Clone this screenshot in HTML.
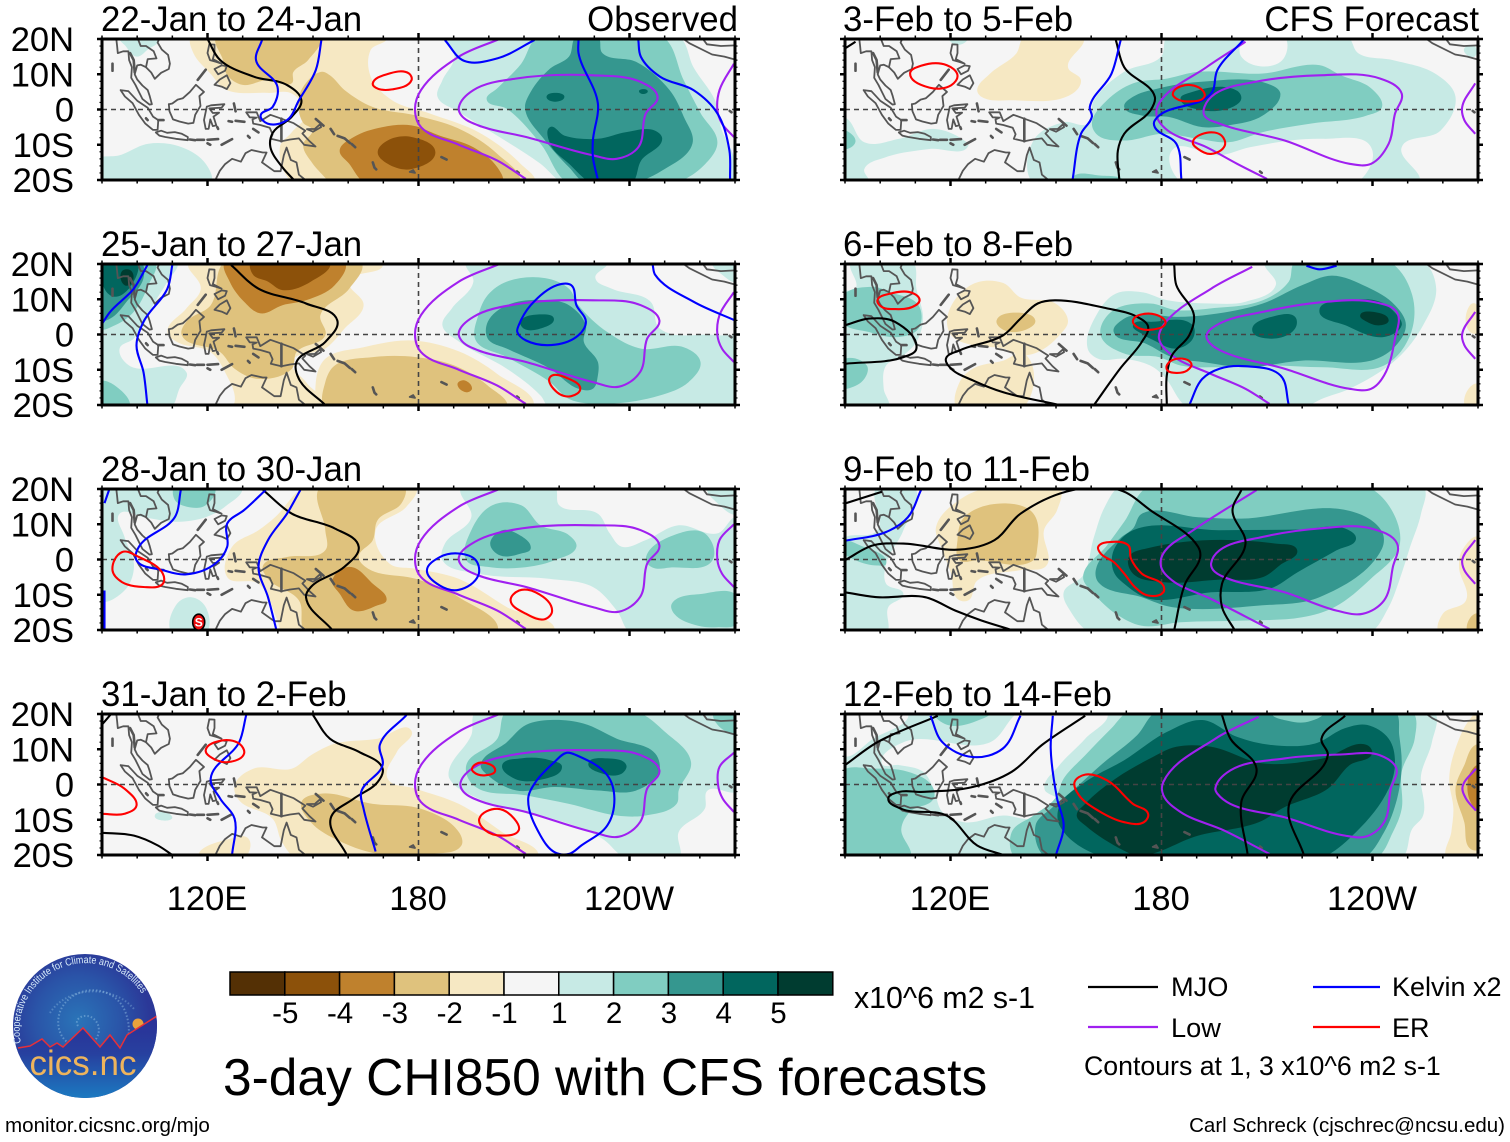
<!DOCTYPE html>
<html lang="en">
<head>
<meta charset="utf-8">
<title>3-day CHI850 with CFS forecasts</title>
<style>
html,body{margin:0;padding:0;background:#fff}
svg{display:block}
text{font-family:"Liberation Sans",sans-serif;fill:#000}
</style>
</head>
<body>
<svg id="chart" xmlns="http://www.w3.org/2000/svg" width="1510" height="1142" viewBox="0 0 1510 1142">
<rect x="0" y="0" width="1510" height="1142" fill="#fff"/>
<g id="panels"></g>
<g id="colorbar"></g>
<text x="854" y="1008" font-size="30.3">x10^6 m2 s-1</text>
<text x="223" y="1095" font-size="51.5">3-day CHI850 with CFS forecasts</text>
<g>
<line x1="1088" y1="987" x2="1158" y2="987" stroke="#000" stroke-width="2.2"/>
<text x="1171" y="996" font-size="27.2">MJO</text>
<line x1="1313" y1="987" x2="1380" y2="987" stroke="#0000ff" stroke-width="2.2"/>
<text x="1392" y="996" font-size="27">Kelvin x2</text>
<line x1="1088" y1="1027" x2="1158" y2="1027" stroke="#a020f0" stroke-width="2.2"/>
<text x="1171" y="1037" font-size="27.2">Low</text>
<line x1="1313" y1="1027" x2="1380" y2="1027" stroke="#ff0000" stroke-width="2.2"/>
<text x="1392" y="1037" font-size="27">ER</text>
<text x="1084" y="1075" font-size="26.7">Contours at 1, 3 x10^6 m2 s-1</text>
</g>
<text x="1505" y="1132" font-size="20.5" text-anchor="end">Carl Schreck (cjschrec@ncsu.edu)</text>
<text x="5" y="1132" font-size="20.6">monitor.cicsnc.org/mjo</text>
<g>
<defs>
<radialGradient id="skyGrad" gradientUnits="userSpaceOnUse" cx="78" cy="1020" r="72">
<stop offset="0" stop-color="#2a74b8"/><stop offset="0.6" stop-color="#2a54a8"/><stop offset="1" stop-color="#2b3898"/>
</radialGradient>
<linearGradient id="landGrad" x1="0" y1="0" x2="0" y2="1">
<stop offset="0" stop-color="#2b2f96"/><stop offset="0.45" stop-color="#27409f"/><stop offset="1" stop-color="#1b7cc2"/>
</linearGradient>
<clipPath id="logoClip"><circle cx="85" cy="1026" r="72"/></clipPath>
</defs>
<circle cx="85" cy="1026" r="72" fill="url(#skyGrad)"/>
<g clip-path="url(#logoClip)">
<path d="M78 1026c-5-8 8-14 16-7 11 10 2 29-14 28-22-2-28-28-15-44 17-20 50-16 60 8 8 20 2 34-4 42" fill="none" stroke="#9cc8e8" stroke-width="2" stroke-dasharray="1.5 2" opacity="0.45"/>
<path d="M50 1013c16-26 62-30 84-4" fill="none" stroke="#9cc8e8" stroke-width="2" stroke-dasharray="1.5 2" opacity="0.35"/>
<circle cx="138" cy="1024" r="5.5" fill="#e8a23c"/>
<path d="M13 1048L18 1048L30 1046L42 1039L50 1047L57 1043L63 1047L83 1028L100 1047L110 1035L120 1048L127 1035L157 1016L160 1100L10 1100Z" fill="url(#landGrad)" stroke="none"/>
<path d="M18 1048L30 1046L42 1039L50 1047L57 1043L63 1047L83 1028L100 1047L110 1035L120 1048L127 1035L157 1016" fill="none" stroke="#e5303a" stroke-width="1.5"/>
</g>
<path id="logoArc" d="M21 1043A62 62 0 1 1 151 1016" fill="none"/>
<text font-size="10.4" style="fill:#d8ecfa"><textPath href="#logoArc" textLength="184" lengthAdjust="spacingAndGlyphs">Cooperative Institute for Climate and Satellites</textPath></text>
<text x="83" y="1075" font-size="35" text-anchor="middle" style="fill:#eeb45c">cics.nc</text>
</g>
</svg>
<script>
/* ---- colour scale ---- */
const colorbarTicks = [-5,-4,-3,-2,-1,1,2,3,4,5];
const palette = ["#543005","#8c510a","#bf812d","#dfc27d","#f6e8c3","#f5f5f5","#c7eae5","#80cdc1","#35978f","#01665e","#003c30"];

/* ---- axis labels ---- */
const latTicks = [20,10,0,-10,-20];
const latLabels = ["20N","10N","0","10S","20S"];
const lonTicks = [120,180,240];
const lonLabels = ["120E","180","120W"];

/* ---- panels ---- */
const titlesLeft = ["22-Jan to 24-Jan","25-Jan to 27-Jan","28-Jan to 30-Jan","31-Jan to 2-Feb"];
const titlesRight = ["3-Feb to 5-Feb","6-Feb to 8-Feb","9-Feb to 11-Feb","12-Feb to 14-Feb"];

/* Each shade entry: [binValue, lon,lat, lon,lat, ...]. Each line entry: [lon,lat, lon,lat, ...]. */
const shade1 = [
[-1.5,115.4,20.6,116,16,121,10,125,5.7,137,4.7,144,4.5,148,-1.2,144,-6.4,140.6,-10.7,144.6,-21,213,-21,209,-15.4,197,-6.4,183.4,-1.2,172.5,2.6,166.4,9.3,166.4,16.9,171,20.6],
[-2.5,122.6,21,124.4,14,125.6,9.8,129.8,7,137.2,8.4,144,7.5,144.4,10.6,148.6,14,152,21],
[-2.5,152.5,10.7,147.2,6.4,145.8,1.8,147.2,-3.8,149.8,-5.8,147.2,-10,149.8,-15.2,153.5,-19.4,154.9,-21,208.6,-21,202.4,-12.6,191.6,-5.5,179.3,-1.7,167,0.7,159,5.5,154.8,9.7],
[-3.5,157.6,-11.6,161.6,-7.8,169.8,-5,178,-4.5,186,-7.4,195.6,-10.7,202.4,-16.4,203.8,-21,165,-21,160.3,-15.4],
[-4.5,168.4,-12.1,171.2,-8.8,178,-7.8,184.8,-12.1,178,-16.9,171.2,-15.4],
[1.5,95,20.6,105.9,19.7,103,17,99.8,15,96.7,18],
[1.5,88,-14.5,95,-13,103.2,-9.7,112.7,-10.7,119.5,-15.4,120.9,-21,88,-21],
[1.5,187.5,20.7,190.2,15,186.8,8.3,185.4,3.6,191.5,-0.7,203.8,-8.3,214.7,-15.4,221.5,-21,271,-21,269,-11.6,266.3,-6,264.3,2.6,258.2,12,254,20.7],
[2.5,214,20.7,209.2,13,202.4,6,199.4,2.8,205.1,0.2,214.7,-9.7,222.8,-21,252.7,-21,261.6,-15.4,265,-9.3,260.2,-1,255.4,8.3,249.3,20.7],
[3.5,224.9,20.7,222.8,15,217.4,11.6,211.9,5,210.3,0.2,216,-8.8,222.8,-16.4,227.6,-21,240.5,-21,249.3,-17.3,257.9,-9.7,255.4,-2,251.4,5.5,241.9,13.5,232.3,16,231,20.7],
[4.5,217.4,-5,221.5,-7.4,231,-8.3,239.1,-6.4,247.3,-6,249.3,-8.3,243.3,-14.5,240.5,-21,229.6,-21,222.8,-15.4,217.4,-9.7],
[4.5,216.4,3.6,219.4,4.7,221.5,3.6,218.8,2.2],
[4.5,242.7,5.2,243.9,5.8,245.2,5.2,243.9,4.4]
];
const mjo1 = [[120,20,123.6,14,133.2,9.3,142.7,6.9,146.7,2.6,144,-2,138.5,-6.7,137.9,-10.7,141.3,-16.4,144.6,-20]];
const kelvin1 = [
[135.5,19.7,133.8,14,139.9,6.4,138.5,0.7,135.1,-1.7,137.1,-4,142.6,-3,146,2.6,150.8,11.2,152.4,19.7],
[187.5,19.7,193,13.8,202.4,14.5,213,19.7],
[225.5,19.7,225.5,16,231,1.7,229.6,-8.8,229.6,-13.5,231,-20],
[242.5,19.7,243.2,15,248.7,9.3,258.2,5.5,265,-1.1,268.4,-11.6,268.6,-20]
];
const low1Open = [
[203,20,191.5,15,180.7,5.5,179,0,180.7,-5,191.5,-10,202.4,-14.5,210.5,-19.7],
[269.7,13,265.6,5.5,265,-0.2,266.3,-4,269.7,-7.8]
];
const low1Closed = [[191.5,0.7,195.6,5.5,207.9,8.8,229.6,9.7,243.2,7.8,248,3.6,244.6,-1.2,242.5,-10.7,236.4,-14,229.6,-13,210.6,-7.8,197,-4.5,192.2,-1.7]];
const er1 = [[167,7.4,171,10,177.3,10.2,178,8.3,172.5,5.7,167.8,6.2]];

const shade2 = [
[-1.5,114.7,20.7,118.1,13,114,7.4,108.6,0.7,111.3,-2.1,120.9,-5,125,-10.7,127.7,-19.2,126.3,-21,153.5,-21,148,-13.5,144,-7.8,153.5,-4,159,1.7,164.4,8.3,160.3,15,169.8,20.2],
[-1.5,152.4,-21,150.8,-13.5,153.5,-6.9,164.4,-3.6,178,-1.7,191.5,-4.8,202.4,-11.2,212.6,-21],
[-2.5,125,20.7,120.9,8.3,114,3.6,112.7,-0.2,123.6,-5,127.7,-9.7,134.5,-12.6,144,-9.7,145.3,-5,153.5,-0.2,152.1,5.5,160.3,13,163.7,20.7],
[-2.5,153.5,-21,153.5,-13.5,156.2,-8.8,167,-6.4,179.3,-6.4,190.2,-8.8,199.7,-14.5,205.1,-21],
[-3.5,125,20.7,159,20.7,156.2,14,148,9.7,141.3,8.3,135.1,6,130.4,9.3,126.3,15],
[-4.5,132.4,20.7,154.8,20.7,149.4,15,141.3,12.6,137.2,15,133,16.9],
[-3.5,191.1,-14,192.9,-13,195.2,-15.4,193.6,-16.4],
[1.5,89,20.7,111.3,20.7,108.6,15,104.5,8.3,101.8,2.6,99,-1.2,95,-4,97.7,-8.8,114,-10.7,112,-15.4,109.3,-21,89,-21],
[1.5,193.6,20.7,195.6,15,189.5,7.4,186.8,2.6,191.5,-2,205.1,-9.7,214.7,-17.3,217.4,-21,271,-21,271,-1.2,265,-0.2,248.6,1.7,246,9.3,235,13,230.3,16,233.7,20.7],
[1.5,263.6,20.7,271,20.7,271,15,266.3,17],
[2.5,89,20.7,105,20.7,103.2,14,99,6.4,93.7,2.6,89,1.7],
[2.5,89,-13.5,93.7,-14.5,97.7,-21,89,-21],
[2.5,199.7,11.2,205.1,15,216,16,222.8,13,225.5,8.3,233.7,0.7,243.2,-4,255.4,-3.6,260.2,-7.8,256.8,-13.5,248.6,-17.3,232.3,-19.7,222.8,-18.3,217.4,-13.5,205.1,-6.4,196.3,-1.7,197,5.5],
[3.5,89,20.7,101,20.7,101.8,16,97,9.3,92.3,4.5,89,4],
[3.5,199.7,3.6,205.1,8.3,217.4,9.7,222.8,8.3,227.6,2.6,227,-2,231,-7.8,231,-11.6,229.6,-15.4,225.5,-15.4,217.4,-9.7,205.1,-4,199.7,-1.2],
[4.5,90.7,20.7,99.8,20.7,99,15,93.7,10.7,90.7,13],
[4.5,209,3.6,214.7,5.7,218.5,4.5,214.7,1.7,209.9,1.7],
[5.5,95.7,18,98.4,18,98.4,14.5,96.4,14]
];
const mjo2 = [[126.7,19.7,134.5,13,148,8.8,156.9,4,153.5,-2.1,145.3,-7.8,146,-12.6,153.5,-20]];
const kelvin2 = [
[102.9,19.7,99,13,92.3,6.4,90,3],
[110,19.7,108.6,13,101.8,3.6,99.8,-3,101.8,-10.7,102.9,-20],
[246.6,19.7,247.3,16.9,258.2,9.3,270,4]
];
const kelvin2Closed = [[208.5,2.6,211.9,8.3,219.4,14,223.4,14,224.9,8.3,227.6,3.6,225.5,-0.2,218.8,-2.9,210.6,-1.7,208.1,0.7]];
const low2Open = [
[203,20,191.5,15,180.7,5.5,179,0,180.7,-5,191.5,-10,202.4,-14.5,210.5,-19.7],
[269.7,12,265.6,5.5,265,-0.2,266.3,-4,269.7,-7.8]
];
const low2Closed = [[191.5,0.7,195.6,5,207.9,8.6,229.6,9.7,243.2,8.3,248.5,4,245,-1.2,243,-10.7,237,-14.8,229.6,-13.5,210.6,-7.8,197,-4.5,192.2,-1.7]];
const er2 = [[217.4,-12.1,222.8,-12.6,226,-15.4,223.4,-17.5,219.4,-16.4]];

const shade3 = [
[1.5,89,20.7,129.7,20.7,125,15,119.5,12,111.3,10.7,101.8,12,95,13,96.4,6.4,99.1,-2,96.4,-8.8,89,-11.6],
[1.5,111.3,-12.6,115.4,-10.7,119.5,-13.5,119.5,-21,110,-21],
[1.5,192.2,20.7,195,12,187.5,4.5,186.8,-0.2,197,-4,217.4,-5.5,229.6,-7.8,236.4,-14.5,240.5,-21,271,-21,271,12,265,7.4,254,9.7,244.6,5.5,237.8,3.6,234.4,7.4,231,13,220,15.4,218.7,20.7],
[1.5,262.2,20.7,271,20.7,271,13,265,16],
[2.5,110.7,20.7,122,20.7,119.5,15.4,114,15,110.7,16.9],
[2.5,195,8.3,201,15.4,209.2,15.4,214.7,9.7,222.8,6.9,224.9,3.6,218.7,-0.2,209.2,-2.3,199.7,-2.1,193.6,-0.2],
[2.5,244.6,0,254,7.4,261.4,7.4,263.6,-0.2,251.4,-2.3,246.6,-2.3],
[2.5,252,-12.6,260.9,-9.7,270.5,-10.2,270.5,-18.3,265,-19.2,259.5,-18.8,252.7,-15.4],
[3.5,200.4,4.5,203.8,8.3,207.9,7.4,211.9,3.1,209.2,1.7,203.1,1.2],
[-1.5,148,20.7,139.2,12,134.5,8.3,127,3.6,125.6,-5,134.5,-6.9,139.9,-17.3,141.3,-21,218.7,-21,205.1,-13.5,191.5,-5.5,179.3,-2.6,171.8,-1.2,167.8,8.3,176.6,15,179.3,20.7],
[-2.5,152.1,20.7,176,20.7,175.2,16,168.4,11.2,167,5.5,163,0.7,165.7,-2.6,179.3,-5.5,191.5,-10.7,202.4,-21,148,-21,146,-11.6,137.2,-5.5,135.8,-1.7,142.6,0.7,153.5,2.6,153.5,8.3],
[-3.5,155.5,-6,160.3,-2.1,167,-6.9,170.9,-11.6,168.4,-13,161.6,-14.5,157.6,-9.7]
];
const mjo3 = [[135.8,19.7,144,13,156.2,8.8,163,3.6,158.9,-2.1,149.4,-7.8,148,-10.7,155.5,-20]];
const kelvin3 = [
[92,19.7,90.7,16],
[112.4,19.7,110.7,12,100.5,3.6,99.8,-0.2,107.3,-3,114,-4.2,122.2,-1.2,125.6,3.6,125.6,10.2,130.4,14,136.5,19.7],
[146.4,19.7,142.6,13,137.2,5.5,134.5,-2.1,137.2,-10.7,139.6,-20],
[90.7,-8.8,90.7,-20]
];
const kelvin3Closed = [[182.4,-3.1,186.1,0.7,191.5,1.7,196.3,-0.2,197,-4.5,191.5,-8.6,186.1,-7.4]];
const low3Open = [
[203,20,191.5,15,180.7,5.5,179,0,180.7,-5,191.5,-10,202.4,-14.5,210.5,-19.7],
[269.7,10,265.6,5.5,265,-0.2,266.3,-4,269.7,-7.8]
];
const low3Closed = [[191.5,0.7,196,5,207.9,8.6,229.6,9.7,243.2,8.3,248.5,4,245,-1.2,243,-10.7,237,-14.8,229.6,-13.5,210.6,-7.8,197,-4.5,192.2,-1.7]];
const er3 = [
[93,-3.1,95.7,2.1,100.5,0.7,107.3,-4,107.3,-6.9,101.8,-7.8,95.7,-6.4],
[206.2,-11.6,208.6,-8.8,213.3,-9.3,218,-14.5,216,-16.9,210.6,-15.4]
];
const cyclonePosition = [117.5,-17.5];

const shade4 = [
[-1.5,127.7,-0.2,133.1,4.5,144,4.5,149.4,8.3,156.2,11.6,168.4,13,177.9,15.4,173.9,9.3,171.2,1.7,179.3,-1.2,191.5,-5.5,203.8,-13.5,214,-21,145.3,-21,141.2,-16.4,138.5,-9.7,129,-4.5],
[-1.5,117.5,-21,126.3,-15.4,131.7,-15.4,130.4,-21],
[-2.5,146.7,-5,152.1,-2.6,167,-5.5,180.7,-6.9,191.5,-13.5,192.2,-17.3,183.4,-19.7,168.4,-19.7,156.2,-15.4,149.4,-10.7],
[1.5,105,-8.8,110,-9.3,108.6,-10.2],
[1.5,196.3,20.7,195,14,188.8,4.5,188.8,1.7,197,-4,209.2,-7.8,221.5,-10.7,232.3,-15.4,239.1,-21,254,-21,254,-13.5,261.4,-6.9,262.2,-1.7,271,-1.7,271,20.7],
[2.5,205,20.7,241.9,20.7,250,15,257.5,6.4,254,-1.7,253.4,-5.5,244.6,-8.8,236.4,-8.8,222.8,-5.5,210.6,-3.1,195.6,-0.2,193.6,5.5,202.4,13],
[2.5,264,20.7,271,20.7,271,15,266,16],
[3.5,210.6,16.9,217.4,18.3,226.9,17.3,236.4,13,247.3,8.8,248.4,3.6,241.9,-1.7,231,-1.7,218.7,-0.7,207.9,-1.7,199.7,2.6,197.7,5.5,205.1,12],
[4.5,203.8,5.5,209.2,7.4,217.4,6.9,220.8,5,214,1.2,207.2,1.7],
[4.5,228.3,6,233.7,7.4,239.1,5.5,237.8,3.1,232.3,3.1]
];
const mjo4 = [
[90,17,92.6,20],
[150,19.7,154.8,13,163,9.3,169.8,4.5,168.4,0.7,161.6,-4,155,-9.7,159.6,-20],
[90,-13.7,99.1,-14.5,105.9,-17.3,110,-20]
];
const kelvin4 = [
[131,19.7,129,12,120.9,1.7,123.6,-4,127.7,-9.7,127,-20],
[176.6,19.7,169,11.2,169.8,5.5,163.7,-2.1,164.4,-6.9,167.8,-19]
];
const kelvin4Closed = [[222.1,9,224.9,8.3,233.7,2.6,235.7,-4,233.7,-11.6,226.3,-17.3,222.8,-19.7,218.7,-19.2,214.7,-14.5,211.2,-4,213.3,0.7,218.7,6.4]];
const low4Open = [
[203,20,191.5,15,180.7,5.5,179,0,180.7,-5,191.5,-10,202.4,-14.5,210.5,-19.7],
[269.7,9,265.6,5,265.2,-0.2,266.5,-4,269.7,-7.8]
];
const low4Closed = [[192,0.7,196,5,207.9,8.6,229.6,9.7,243.2,8.3,248.5,4,245,-1.2,243,-10.7,237,-14.8,229.6,-13.5,210.6,-7.8,197,-4.5,192.5,-1.7]];
const er4 = [
[119.5,9.7,123.6,12.4,129,11.6,130.4,8.8,126.3,6.4,121.5,7.4],
[197.3,-9.7,202.4,-6.9,207.2,-9.7,208.5,-13,203.8,-14.5,199,-13],
[195.2,4.5,197.7,6.2,201.8,4,199,2.6,195.6,3.6]
];
const er4Open = [[90,2.1,96.4,-1.2,99.8,-6,96.4,-8.3,90,-8.3]];

const shade5 = [
[1.5,181.7,20.7,179.9,15,169.4,10.7,160.8,2.6,159,-4,152.2,-3.6,143.6,-8.8,143.6,-21,253.2,-21,248.3,-10.7,259.3,-6,263.6,3.6,258.1,10,245.8,14,235.9,16,232.9,20.7],
[0,183,-11.6,186,-21,235.3,-21,239.6,-10.7,226,-8.3,205.1,-10.7,196.5,-13],
[0,203.9,20.7,202.7,15,213.8,13.5,215,20.7],
[1.5,89,-2.1,90.6,-2.6,95.5,-9.3,105.4,-8.3,115.2,-5.5,123.9,-8.8,125.1,-10.2,114,-11.2,101.7,-13.5,95.5,-16.9,96.8,-21,89,-21],
[1.5,119.5,20.7,125,20.7,122,18.3],
[1.5,266,17,269,18,269,15],
[2.5,89,-6,91.2,-6.5,93,-9,91.2,-11,89,-11],
[2.5,154.7,-19.2,162,-18.7,169.4,-21,154.7,-21],
[2.5,160.2,-4,164.5,2.6,171.9,7.4,181.7,8.8,190.4,10.7,208.8,10.2,224.9,12.6,231,9.7,239.6,6,242.7,0.7,238.4,-1.7,222.4,-4,208.8,-6.4,199,-9.3,190.4,-8.3,180.5,-6.9,169.4,-8.8,162,-7.4],
[3.5,169.4,0.7,171.9,3.6,179.3,6,190.4,7.8,211.3,6.9,213.8,4.5,208.8,-1.7,199,-4.5,191.6,-5,182,-2.1,174.4,-1.7],
[4.5,185.4,3.1,187.9,4.7,201.5,5.3,202.7,3.1,200.2,0.7,191.6,-0.2],
[-1.5,127.6,5.5,131.3,10.2,138.7,15.9,141,20.7,157.7,20.7,153.4,12,157.1,8.3,154.7,4.5,137.4,2.6,128.8,3.6]
];
const mjo5 = [
[167,19.7,169.4,12,178.1,3.6,176.9,-0.2,169.4,-6.9,167.6,-11.6,168,-20],
[90,17.3,93,19.2]
];
const kelvin5 = [
[168.4,19.7,165.7,10,159.6,0.7,160.2,-2,157.1,-6.9,154.7,-20],
[203.3,19.7,195.9,11.2,194.1,4.5,178.1,-3.1,178.1,-5,184.2,-9.7,185.7,-20]
];
const low5Open = [
[203.9,19.2,192.8,12,179.3,1.7,178.7,-2.1,181.7,-5.9,192.8,-10.7,201.5,-15.4,210,-19.7],
[269.2,7.4,265.5,0.7,266.1,-3,269.2,-6.9]
];
const low5Closed = [[192.2,0.7,195.3,4.5,206.4,7.8,224.9,9.7,242.1,8.8,248.3,4.5,246.4,-1.2,244.6,-9.7,239.6,-15.4,233.5,-15.4,215,-8.8,196.5,-4,192.2,-1.7]];
const er5 = [
[108.5,10.2,111.6,12.4,118.9,12.6,122,9.7,120.2,6.9,114,6.2],
[183.2,4.5,186.7,6.9,191.6,5.5,192.2,3.6,187.9,2.3,184.2,3.1],
[188.9,-9.3,192.8,-6.6,197.1,-7.4,198,-10.2,194.1,-12.6,190.4,-11.2]
];

const shade6 = [
[1.5,91.8,20.7,109.1,20.7,110.3,13,112.2,4.5,110.3,-2.1,106.6,-5.9,101.7,-8.8,101,-15.4,102.3,-21,89,-21,89,12,93,13],
[2.5,89,3.6,89,10.7,98,13.5,102.9,12,110.9,8.3,110.9,1.7,105.4,-0.7,96.8,0.7],
[2.5,89,-7.4,96.2,-8.8,95.5,-12.6,90.6,-15.4,89,-15.4],
[-1.5,119.2,5.5,126.3,14.3,135,14.6,139.9,10.5,149.7,8.9,153.4,3.9,151,-0.2,144.8,-5,139.9,-5.9,135,-4,126.3,-3,120.2,-0.2],
[-1.5,122,-21,122.6,-13.5,126.3,-9.7,135,-7.4,141.1,-5.5,140.5,-21],
[-1.5,267.7,8.3,269.2,8.8,270.5,0.7,267.7,0.7],
[-1.5,266.7,-16.4,270,-14,270.5,-21,266.7,-21],
[-2.5,133.1,4,138.6,6.2,144.1,4,141,1.2,134.9,1.4],
[1.5,159,-4,162,6.4,167,11.6,174.4,12,181.7,9.7,194.1,8.8,203.9,9.3,212.5,14,209.5,20.7,254.4,20.7,258.1,13,254.4,2.6,247,-6.9,233.5,-15.4,225.5,-18.3,219.9,-21,187.9,-21,180.5,-11.6,176.8,-8.8,169.4,-6.9,162,-6.9],
[2.5,162.7,-0.2,165.7,6.4,176.8,8.8,184.2,6.9,194.1,7.4,208.8,9.7,216.2,15,218,20.7,244.6,20.7,251.3,11.2,250.7,-0.2,243.3,-8.8,226,-9.3,211.3,-8.8,196.5,-9.3,185.4,-8.8,179.3,-6.4,169.4,-5.4],
[3.5,166.4,0.7,169.4,4.5,174.4,5.7,184.2,5,194.1,5.7,208.8,8.8,220,14,228.5,16.7,238.4,13.5,246.4,8.3,249.5,2.6,245.8,-4,239.6,-7.4,220,-7.4,203.9,-9.3,191.6,-7.8,183,-6.4,175.6,-2.6],
[4.5,171.9,2.6,177.4,3.6,188.9,2.6,188.9,-1.2,184,-4,177.9,-1.7,174.4,0.2],
[4.5,205.8,1.2,212.5,5.3,218,5,218,1.7,211.3,-1.2],
[4.5,224.9,6.9,233.5,9.7,242.1,9.3,247,5.5,248.3,2.6,243.3,-0.7,232.3,2.6],
[5.5,236.5,5.5,240.2,6.4,244.6,4,242.1,2.6,238.4,3.6]
];
const mjo6 = [
[90,2.6,96.8,4.5,104.2,3.6,110.3,-4,106.6,-6.4,90,-8.3],
[151,-20,135,-16.4,126.3,-13,120.2,-9.7,118.7,-6.9,122.6,-4.5,135,-0.2,139.9,4.5,144.8,8.8,149.7,9.7,164.5,7.4,173.1,5,176.2,2.2,174.4,-2.1,168.2,-9.7,160.8,-20],
[183.6,19.7,184.2,14,189.2,5.5,187.9,-0.2,183,-5.9,181.5,-11.6,181.5,-20]
];
const kelvin6 = [
[221.2,19.5,224.9,18.5,229.8,19.5],
[187.9,-20,191.6,-12.6,196.5,-9.7,203.9,-9,213.8,-11.6,216.2,-20]
];
const low6Open = [
[205.8,19.2,194.1,13,180.5,2.6,179.3,-1.2,183,-5.9,194.1,-11.2,203.9,-15.4,210.7,-19.7],
[269.2,6.4,265.5,0.2,266.1,-3,269.2,-6.9]
];
const low6Closed = [[192.8,-0.2,196.5,3.1,208.8,6.4,224.9,9.1,240.9,9.1,247,6.2,246.4,-1.2,243.3,-11.6,239.6,-15.4,233.5,-15.4,215,-9.7,196.5,-4.4,193.4,-2]];
const er6 = [
[99.2,9.7,102.9,11.6,109.1,11.8,111.2,9.7,109.1,7.8,104.2,7.2,100.5,7.8],
[171.9,4,175.6,5.9,180.5,4.5,181.1,3.1,177.4,1.4,173.1,2.1],
[181.5,-8.8,184.2,-6.9,188.5,-8.3,187.3,-10.2,184.2,-10.9,181.7,-10.2]
];

const shade7 = [
[1.5,99.2,20.7,109.7,20.7,106.6,8.3,101.7,-1.2,101.7,-6.9,106.6,-9.7,102.3,-13.5,101.7,-21,89,-21,89,5.5,99.2,8.3],
[2.5,89,5,94.3,4,101.7,-1.2,99.2,-1.7,93,-0.2,89,2.6],
[-1.5,115.9,9.3,123.9,17.8,132.5,20.7,151,20.7,150.3,14,146.6,8.3,147.3,-1.7,139.9,-3,127.6,-6,125.1,-11.6,122,-11.2,120.2,-4,117.7,2.6],
[-2.5,122,5.5,123.9,12,136.2,15.9,143.6,13,144.6,2.6,143.6,-0.2,127.6,-0.2,122.6,-0.2],
[-1.5,259,-21,260,-15.4,266.6,-11.6,264.6,-2.1,265.5,2.6,270.5,6.4,270.5,-21],
[-2.5,267.9,-16.4,270.5,-15.4,270.5,-21,267.3,-21],
[1.5,168.2,20.7,163.9,15,160.8,6.4,157.7,-4.5,152.2,-9.3,154,-14.5,160.2,-21,239,-21,244.6,-13.5,247.6,-6,250.7,3.6,253.8,13,254.4,20.7],
[2.5,176.2,20.7,238.4,20.7,245.8,13.4,247.6,3.6,239.6,-5.4,229.2,-13.5,220,-16.4,203.9,-17.3,185.4,-17.8,174.4,-18.8,167,-15.4,160.8,-9.7,157.7,-5,164.5,4,169.4,10.7],
[3.5,174.4,13,190.4,12,202.7,11.6,233.5,13.8,242.7,7.9,242.7,3.1,224.9,-10.7,208.8,-13,183,-13.5,174.4,-10.7,162,-6.4,161.4,-2.6,168.2,6,171.9,8.8],
[4.5,166.4,2.6,171.9,8.3,196.5,8.3,220,8.5,232.2,8.8,235.3,5.9,229.8,2.6,218.7,-3.6,210.7,-8.3,194.1,-9.3,176.8,-11.2,169.4,-6.9,166.4,-3.5],
[5.5,170.7,0.7,175.6,3.1,212.5,4.5,218.6,2.6,213.7,-1.6,208.8,-5,196.5,-5.7,180.5,-6.4,171.9,-4]
];
const mjo7 = [
[90,15.9,100.5,19.2],
[90,-0.2,98,4,106.6,4.5,122.6,2.8,132.5,5.5,139.9,13,154.7,19.7,168.2,19.7,176.8,14,190.4,3.6,191,0.7,186.7,-6.9,183.6,-20],
[90,-9.3,99.2,-10.7,112.8,-10.7,121.4,-14.5,128.8,-17.3,137.4,-20],
[202.7,19.7,200.2,14,203.9,4.5,197.2,-6.9,197.2,-13.5,200.8,-20]
];
const kelvin7 = [[111.6,19.7,107.9,12,101.7,7.8,90,5.3]];
const low7Open = [
[207,19.7,189,8.3,180.5,1.7,179.9,-2.1,183,-5.9,194.1,-11.2,210.7,-19.7],
[269.2,5.5,265.5,-0.2,266.1,-3,269.2,-6.9]
];
const low7Closed = [[194.1,-1.1,196.5,2.6,208.8,6.4,224.9,8.8,239.6,8.8,247,4.5,245.8,-2.1,243.3,-11.6,237.2,-15.4,229.8,-14.5,215,-9.3,197.8,-5,194.7,-3]];
const er7 = [[162,3.6,165.7,5,170.6,4,171.3,0.3,174.4,-4,180.5,-7.4,180.5,-9.3,176.2,-10.2,172.5,-7.9,169.4,-4,166.4,-0.7,162.7,1.7]];

const shade8 = [
[1.5,89,20.7,257.5,20.7,256.9,12,253.8,2.6,254.4,-8.8,251.3,-12.6,248.2,-21,89,-21],
[0,131.3,12,139.9,20.7,164.5,20.7,158.3,13,151,5.5,146.7,-1.2,151,-5,143.6,-9.7,135,-8.8,123.9,-10.7,117.7,-7.8,115.2,-1.2,112.2,3.6,105.4,5.5,100.5,6,106.6,12],
[0,89,20.7,107.9,20.7,98,13,89,8.3],
[2.5,89,3.6,98,4.5,107.9,3.6,114.6,-0.2,115.2,-4,108.4,-7.8,106,-12.6,108.4,-21,89,-21],
[2.5,115.5,20.7,131.3,20.7,128.1,18.3,118.9,17],
[2.5,170.7,20.7,165.7,15.9,158.3,8.3,152.2,1.7,149.7,-4,143.6,-8.8,137.4,-13.5,138.6,-21,240.9,-21,245.8,-13.5,248.3,-6.9,248.3,3.6,252,13,251.3,20.7],
[3.5,178.7,20.7,173.1,14,163.3,6,155.3,-1.2,149.1,-6.4,144.2,-11.6,147.3,-21,237.2,-21,243.3,-13.5,247,-4,248.3,5.5,247.6,14,246.4,20.7],
[2.5,211.3,20.7,216.2,18,222.4,18,226,20.7],
[4.5,191.6,18.3,181.7,15,169.4,6.9,158.3,0.7,151,-6,151,-11.6,164.5,-21,224.9,-21,235.3,-13.5,244.6,-1.2,246.4,6.4,244.6,13,238.4,16.9,232.2,16,223.6,11.6,211.3,11.2,201.5,13.5],
[5.5,155.9,-8.8,158.3,-5.5,167,1.7,176.8,7.4,184.2,10.7,194.1,10.7,208.8,6,226,7.4,238.4,11.2,239.9,8.8,233.5,5.5,227.3,-1.2,215,-6.4,207.6,-10.7,190.4,-14.5,173.1,-20.2,169.4,-18.8,158.3,-11.6],
[-1.5,261.2,-21,262.4,-13.5,263,-6.9,261.8,1.7,263.6,10.2,267.9,18.8,270.5,20.7,270.5,-21],
[-2.5,267.9,-18.3,266.1,-10.7,263.6,-1.2,266.1,5.5,269.2,11.2,270.5,11.2,270.5,-18.3],
[-3.5,267,-1.2,267.9,3.6,270.5,5.5,270.5,-7.8,267.9,-5]
];
const mjo8 = [
[90,5.5,99.2,12,116.4,19.5],
[158.3,19.5,146,11.2,137.4,3.6,126.3,-0.7,111.6,-2.1,105.4,-2.1,102.3,-4,106,-6.9,118.9,-8.8,127.6,-17.3,135,-20],
[197.1,20,199.6,13,207,4.5,202.7,-5,204.5,-20],
[232.2,19.5,225.5,13,227.3,8.3,216.2,-6,220.5,-20]
];
const kelvin8 = [
[114.3,19.5,117.7,12,126.3,7.8,134.9,10.2,139.9,19.5],
[149.1,19.5,148.5,10.2,150.3,-4,152.2,-11.6,150,-20]
];
const low8Open = [
[207.6,19.2,195.3,13,180.5,0.7,180.5,-3,185.4,-7.8,197.7,-13,210.7,-19.7],
[269.4,4.5,265.6,-0.7,266.6,-4,269.4,-7.4]
];
const low8Closed = [[195.3,-1.2,199.6,4,215,7.4,231,8.5,242.1,8.3,246.8,4.5,245.2,-1.2,243.3,-10.7,238.4,-14.7,232.2,-14.5,215,-9.3,199.6,-5.5,195.9,-2.6]];
const er8 = [[155.3,0.7,158.3,2.8,164.5,1.2,171.9,-5.5,176.2,-8.3,175,-10.7,169.4,-10.7,162,-7.4,156.5,-3]];

/* ---- coastlines (lon,lat) ---- */
const coastlines = [
[94,20.5,94.3,18,94.5,16,96,16.5,97.5,16.5,97.7,14,98.5,12,98.3,9,99.5,7,100.5,5,101.5,3,103.5,1.4,104.2,1.5,103.5,4,103,5.5,101.5,6.8,100,8.5,99.3,10,100,12.5,101,12.7,102.5,12,104,10.5,105,8.7,106.8,10.4,109,11.5,109.3,13,108.8,15.5,107,17,105.8,19,106.5,20.5],
[100,20.5,101,18,102.5,18,104.7,16.5,105.5,14.5,103,14.3,102.5,12],
[98,16,99,14,99.3,10.5],
[95.3,5.5,97.5,5.2,100,2.5,103,0.5,104.5,-2,106,-3,105.8,-5.8,104.5,-5.8,102.3,-4,100.5,-1.5,98.7,1.8,96.5,3.7,95.3,5.5],
[105.3,-6.5,106.8,-6,108.5,-6.6,110.7,-6.4,112.7,-6.9,114.4,-7.8,114.4,-8.7,111,-8.3,108,-7.8,106.3,-7.4,105.3,-6.5],
[109,1.5,110,1.7,111.5,2.8,113,3.2,115,5,116.7,7,119,5,117.7,3.8,118,1,117.5,0.2,116.5,-1.5,116,-3.8,114.5,-4,112,-3.4,110.2,-2.8,109.2,-0.5,109,1.5],
[119.8,0.8,121,1.2,124.8,1.5,124,0.5,120.5,0.3,121.5,-1,123.3,-0.9,121.7,-2,122.5,-4.5,121.5,-4.7,120.8,-2.8,120.3,-5.5,119.5,-5.5,119,-3,119.8,0.8],
[120.5,18.5,122,18.4,122,16,121.5,14.3,124,13,122.5,13.5,120.7,14,120,16,120.5,18.5],
[122,7,123.5,8.5,125.5,9.7,126.5,7.5,125.5,5.8,124,6.5,122,7],
[122,11.5,123,10,125,11,125.5,12.3,124,12.5,122,11.5],
[117.2,8.4,119.5,11.3],
[131,-0.8,134,-0.8,135,-3.3,137.9,-1.5,141,-2.6,144.5,-3.9,147.8,-6,147,-6.8,149,-9,150.7,-10.5,147.5,-10,146,-8.2,143.5,-8.5,141,-9,138,-8.3,138.5,-7,137.7,-5.2,135,-4.4,133,-4,132.8,-2.8,134,-2.3,132,-2.2,131,-0.8],
[141,-2.6,141,-9],
[122,-20.5,123.5,-17.4,125,-15.5,127,-14,129.5,-14.8,130.8,-12.4,132.5,-11.5,135.7,-12.2,136.8,-12.2,135.5,-15,139,-17.5,140.8,-17.5,141.7,-13,142.5,-10.8,143.7,-14.3,145.3,-15,146,-18.5,148.5,-20.5],
[148.3,-5.6,150.5,-5.5,152,-4.2,152.3,-5,150,-6.3,148.3,-5.6],
[150.8,-2.7,153,-4.6],
[155,-5.5,156,-7],
[157,-7.5,159,-8.2,160.5,-9.5],
[161,-9.8,162,-10.7],
[167,-15,167.5,-16.5,168,-17],
[177.5,-17.7,179,-18,178.5,-17.2,177.5,-17.7],
[186.5,-13.5,188,-14.2],
[208,-17.6,208.5,-18],
[115,-8.5,116.5,-8.7],
[117,-8.6,119,-8.6],
[120,-8.6,123,-8.4],
[120,-9.6,120.8,-10],
[124,-10,127,-8.4],
[127.5,1.7,128,-0.5],
[126,-3.3,127,-3.5],
[128,-3.2,130.5,-3.5],
[133,-5.5,134.5,-6.5],
[131.5,-7.5,132,-8],
[122.8,-5,123,-5.5],
[106,-3,107.5,-3],
[102.5,-2.5,103,-3],
[93,13,93,11],
[254.7,20.5,257,18.8,263.5,15.6,267,15,270.5,14],
[260.5,20.5,262,18.5,266,18,270.5,18.2],
[268.5,-0.4,269,-0.8]
];

/* ---- panel layout and axis functions ---- */
const columnLeft = [102,845];
const rowTop = [39,264,489,714];
const PANEL_W = 633, PANEL_H = 141;
const LON_MIN = 90, LON_MAX = 270, LAT_MIN = -20, LAT_MAX = 20;
const bins = [-5.5,-4.5,-3.5,-2.5,-1.5,0,1.5,2.5,3.5,4.5,5.5];
function xScale(col,lon){return columnLeft[col]+(lon-LON_MIN)/(LON_MAX-LON_MIN)*PANEL_W;}
function yScale(row,lat){return rowTop[row]+(LAT_MAX-lat)/(LAT_MAX-LAT_MIN)*PANEL_H;}
function colorFor(v){return palette[bins.indexOf(v)];}

const SVGNS = "http://www.w3.org/2000/svg";
function make(tag,parent,attrs){
  const el = document.createElementNS(SVGNS,tag);
  for(const k in attrs){el.setAttribute(k,attrs[k]);}
  parent.appendChild(el);
  return el;
}
function toPts(flat,col,row){
  const out=[];
  for(let i=0;i+1<flat.length;i+=2){out.push([xScale(col,flat[i]),yScale(row,flat[i+1])]);}
  return out;
}
function unit(a,b){
  const dx=b[0]-a[0], dy=b[1]-a[1], l=Math.hypot(dx,dy)||1;
  return [dx/l,dy/l];
}
function smoothPath(p,closed){
  const n=p.length, f=v=>v.toFixed(1);
  const at=i=>closed?p[(i+n)%n]:p[Math.max(0,Math.min(n-1,i))];
  function tangent(i){
    const u=unit(at(i-1),at(i)), v=unit(at(i),at(i+1));
    const sx=u[0]+v[0], sy=u[1]+v[1], l=Math.hypot(sx,sy)||1;
    return [sx/l,sy/l];
  }
  let d="M"+f(p[0][0])+" "+f(p[0][1]);
  const segs=closed?n:n-1;
  for(let i=0;i<segs;i++){
    const b=at(i), c=at(i+1);
    const h=Math.hypot(c[0]-b[0],c[1]-b[1])/3;
    const tb=tangent(i), tc=tangent(i+1);
    d+="C"+f(b[0]+tb[0]*h)+" "+f(b[1]+tb[1]*h)+" "+f(c[0]-tc[0]*h)+" "+f(c[1]-tc[1]*h)+" "+f(c[0])+" "+f(c[1]);
  }
  return d+(closed?"Z":"");
}
function straightPath(p){
  return "M"+p.map(q=>q[0].toFixed(1)+" "+q[1].toFixed(1)).join("L");
}
function drawLines(group,list,col,row,color,closed,name){
  for(const flat of list){
    const el=make("path",group,{d:smoothPath(toPts(flat,col,row),closed),fill:"none",stroke:color,"stroke-width":"2.1"});
    
    
  }
}

const panelData = [
 {col:0,row:0,title:titlesLeft[0],shade:shade1,mjo:mjo1,kelvin:kelvin1,kelvinC:[],lowO:low1Open,lowC:low1Closed,er:er1,erO:[]},
 {col:0,row:1,title:titlesLeft[1],shade:shade2,mjo:mjo2,kelvin:kelvin2,kelvinC:kelvin2Closed,lowO:low2Open,lowC:low2Closed,er:er2,erO:[]},
 {col:0,row:2,title:titlesLeft[2],shade:shade3,mjo:mjo3,kelvin:kelvin3,kelvinC:kelvin3Closed,lowO:low3Open,lowC:low3Closed,er:er3,erO:[]},
 {col:0,row:3,title:titlesLeft[3],shade:shade4,mjo:mjo4,kelvin:kelvin4,kelvinC:kelvin4Closed,lowO:low4Open,lowC:low4Closed,er:er4,erO:er4Open},
 {col:1,row:0,title:titlesRight[0],shade:shade5,mjo:mjo5,kelvin:kelvin5,kelvinC:[],lowO:low5Open,lowC:low5Closed,er:er5,erO:[]},
 {col:1,row:1,title:titlesRight[1],shade:shade6,mjo:mjo6,kelvin:kelvin6,kelvinC:[],lowO:low6Open,lowC:low6Closed,er:er6,erO:[]},
 {col:1,row:2,title:titlesRight[2],shade:shade7,mjo:mjo7,kelvin:kelvin7,kelvinC:[],lowO:low7Open,lowC:low7Closed,er:er7,erO:[]},
 {col:1,row:3,title:titlesRight[3],shade:shade8,mjo:mjo8,kelvin:kelvin8,kelvinC:[],lowO:low8Open,lowC:low8Closed,er:er8,erO:[]}
];

const root = document.getElementById("panels");
panelData.forEach(function(pd,idx){
  const c=pd.col, r=pd.row;
  const g=make("g",root,{});
  
  

  const clip=make("clipPath",g,{id:"clip"+idx});
  make("rect",clip,{x:xScale(c,LON_MIN),y:yScale(r,LAT_MAX),width:PANEL_W,height:PANEL_H});

  const body=make("g",g,{"clip-path":"url(#clip"+idx+")"});
  
  

  const bg=make("rect",body,{x:xScale(c,LON_MIN),y:yScale(r,LAT_MAX),width:PANEL_W,height:PANEL_H,fill:palette[5]});
  
  

  pd.shade.forEach(function(s){
    const el=make("path",body,{d:smoothPath(toPts(s.slice(1),c,r),true),fill:colorFor(s[0]),stroke:"none"});
    
    
  });

  coastlines.forEach(function(flat){
    const el=make("path",body,{d:straightPath(toPts(flat,c,r)),fill:"none",stroke:"#555","stroke-width":flat.length<=6?"2.6":"1.8","stroke-linejoin":"round","stroke-linecap":"round"});
    
    
  });

  const eq=make("line",body,{x1:xScale(c,LON_MIN),x2:xScale(c,LON_MAX),y1:yScale(r,0),y2:yScale(r,0),stroke:"#444","stroke-width":"1.6","stroke-dasharray":"5 4"});
  
  
  const dl=make("line",body,{x1:xScale(c,180),x2:xScale(c,180),y1:yScale(r,LAT_MAX),y2:yScale(r,LAT_MIN),stroke:"#444","stroke-width":"1.6","stroke-dasharray":"5 4"});
  
  

  drawLines(body,pd.lowO,c,r,"#a020f0",false,"low-contour");
  drawLines(body,pd.lowC,c,r,"#a020f0",true,"low-contour");
  drawLines(body,pd.mjo,c,r,"#000000",false,"mjo-contour");
  drawLines(body,pd.kelvin,c,r,"#0000ff",false,"kelvin-contour");
  drawLines(body,pd.kelvinC,c,r,"#0000ff",true,"kelvin-contour");
  drawLines(body,pd.erO,c,r,"#ff0000",false,"er-contour");
  drawLines(body,pd.er,c,r,"#ff0000",true,"er-contour");

  /* frame */
  const frame=make("rect",g,{x:xScale(c,LON_MIN),y:yScale(r,LAT_MAX),width:PANEL_W,height:PANEL_H,fill:"none",stroke:"#000","stroke-width":"3"});
  
  

  /* longitude ticks */
  for(let lon=LON_MIN;lon<=LON_MAX;lon+=10){
    const major=lonTicks.indexOf(lon)>=0;
    const len=major?6:3.5;
    const w=major?2.5:1.5;
    [[yScale(r,LAT_MAX),-len],[yScale(r,LAT_MIN),len]].forEach(function(t){
      const tk=make("line",g,{x1:xScale(c,lon),x2:xScale(c,lon),y1:t[0],y2:t[0]+t[1],stroke:"#000","stroke-width":w});
      
      
    });
  }
  /* latitude ticks */
  for(let lat=LAT_MIN;lat<=LAT_MAX;lat+=2){
    const major=lat%10===0;
    const len=major?5:2.5;
    const w=major?2.5:1.2;
    [[xScale(c,LON_MIN),-len],[xScale(c,LON_MAX),len]].forEach(function(t){
      const tk=make("line",g,{x1:t[0],x2:t[0]+t[1],y1:yScale(r,lat),y2:yScale(r,lat),stroke:"#000","stroke-width":w});
      
      
    });
  }

  /* title */
  const tt=make("text",g,{x:xScale(c,LON_MIN)-(c===0?1:2),y:yScale(r,LAT_MAX)-8,"font-size":"34.8"});
  tt.textContent=pd.title;
  
  

  /* latitude labels only on the left column */
  if(c===0){
    latTicks.forEach(function(lat,i){
      const lb=make("text",g,{x:74,y:yScale(r,lat)+12,"font-size":"34.5","text-anchor":"end"});
      lb.textContent=latLabels[i];
      
      
    });
  }
  /* longitude labels only on the bottom row */
  if(r===3){
    lonTicks.forEach(function(lon,i){
      const lb=make("text",g,{x:xScale(c,lon)-0.5,y:yScale(r,LAT_MIN)+55,"font-size":"34.5","text-anchor":"middle"});
      lb.textContent=lonLabels[i];
      
      
    });
  }
  /* right-aligned product tags */
  if(r===0){
    const tag=make("text",g,{x:c===0?738:1479,y:yScale(r,LAT_MAX)-8,"font-size":"34.8","text-anchor":"end"});
    tag.textContent=c===0?"Observed":"CFS Forecast";
    
    
  }
  /* tropical cyclone symbol */
  if(idx===2){
    const cx=xScale(c,cyclonePosition[0]), cy=yScale(r,cyclonePosition[1]);
    const sym=make("ellipse",g,{cx:cx,cy:cy+1,rx:6,ry:8,fill:"#ee1111",stroke:"#000","stroke-width":"1.6"});
    
    
    const st=make("text",g,{x:cx,y:cy+5.5,"font-size":"12","font-weight":"bold","text-anchor":"middle",style:"fill:#fff"});
    st.textContent="S";
    
    
  }
});

/* ---- colorbar ---- */
const cbGroup = document.getElementById("colorbar");
const CB_LEFT = 230, CB_TOP = 972, CB_H = 23, CB_W = 54.8;
palette.forEach(function(col,i){
  const box=make("rect",cbGroup,{x:CB_LEFT+i*CB_W,y:CB_TOP,width:CB_W,height:CB_H,fill:col,stroke:"#000","stroke-width":"1.5"});
  
  
});
colorbarTicks.forEach(function(v,i){
  const t=make("text",cbGroup,{x:CB_LEFT+(i+1)*CB_W+0.5,y:1023,"font-size":"29.5","text-anchor":"middle"});
  t.textContent=String(v);
  
  
});
</script>
</body>
</html>
